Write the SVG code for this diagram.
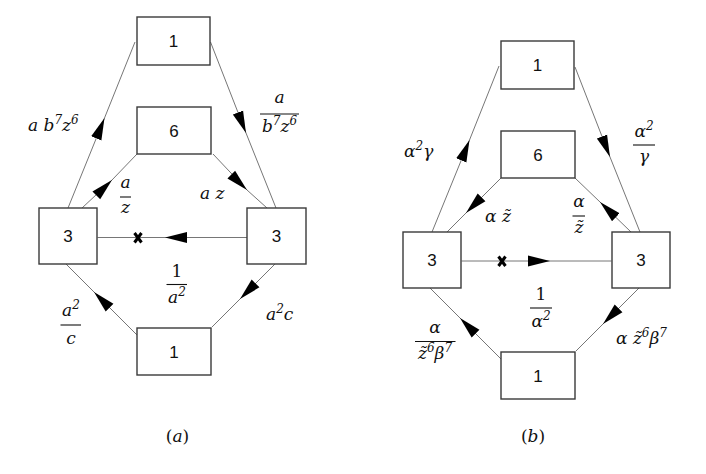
<svg xmlns="http://www.w3.org/2000/svg" width="706" height="474" viewBox="0 0 706 474">
<style>
.box{fill:#fff;stroke:#3a3a3a;stroke-width:1.4}
.num{font-family:"Liberation Sans","Open Sans",sans-serif;font-size:17px;fill:#111;text-anchor:middle}
.m{font-family:"DejaVu Serif","Liberation Serif",serif;font-style:italic;font-size:17px;fill:#111}
.up{font-style:normal}
.c{text-anchor:middle}
.sup{font-size:12px}
.edge{fill:none;stroke:#666;stroke-width:0.9;marker-mid:url(#ah)}
.frac{stroke:#111;stroke-width:1.1}
.x{stroke:#000;stroke-width:3;stroke-linecap:butt}
</style>
<defs>
<marker id="ah" markerUnits="userSpaceOnUse" markerWidth="22" markerHeight="12" viewBox="0 0 20 10" refX="20" refY="5" orient="auto">
<path d="M0,0 L20,5 L0,10 Z" fill="#000"/>
</marker>
</defs>
<rect width="706" height="474" fill="#fff"/>
<g id="connectors">
<path class="edge" d="M68,208 L104.5,118 L135,42"/>
<path class="edge" d="M82,208 L112,180 L137,154"/>
<path class="edge" d="M210.5,42 L246,133 L276,208"/>
<path class="edge" d="M213,154 L247,190 L267,208"/>
<path class="edge" d="M247.5,237.5 L165,237.5 L97.5,237.5"/>
<path class="edge" d="M137,335 L94,292 L66,264"/>
<path class="edge" d="M275,264 L240,299 L212,327"/>
<path class="x" d="M134.5,233 L141.5,242.5 M141.5,233 L134.5,242.5"/>
<path class="edge" d="M432,232 L469.5,140 L499,66"/>
<path class="edge" d="M501,178 L466,213 L447,232"/>
<path class="edge" d="M575,67 L610,157 L640,232"/>
<path class="edge" d="M631,232 L600,202 L575,178"/>
<path class="edge" d="M461.5,261 L550,261 L611.5,261"/>
<path class="edge" d="M501,359 L460,318 L430,288"/>
<path class="edge" d="M639,288 L603,324 L576,351"/>
<path class="x" d="M498.5,256.5 L505.5,266 M505.5,256.5 L498.5,266"/>
</g>
<g id="a_top"><rect class="box" x="137" y="17" width="73" height="48"/><text class="num" x="173.5" y="47">1</text></g>
<g id="a_six"><rect class="box" x="137" y="107" width="74" height="47"/><text class="num" x="174" y="136.5">6</text></g>
<g id="a_left"><rect class="box" x="39" y="208" width="58" height="56"/><text class="num" x="68" y="242">3</text></g>
<g id="a_right"><rect class="box" x="247" y="208" width="59" height="56"/><text class="num" x="276.5" y="242">3</text></g>
<g id="a_bottom"><rect class="box" x="137" y="328" width="74" height="47"/><text class="num" x="174" y="357.5">1</text></g>
<g id="b_top"><rect class="box" x="501" y="41" width="73" height="48"/><text class="num" x="537.5" y="71">1</text></g>
<g id="b_six"><rect class="box" x="501" y="131" width="74" height="47"/><text class="num" x="538" y="160.5">6</text></g>
<g id="b_left"><rect class="box" x="403" y="232" width="58" height="56"/><text class="num" x="432" y="266">3</text></g>
<g id="b_right"><rect class="box" x="612" y="232" width="58" height="56"/><text class="num" x="641" y="266">3</text></g>
<g id="b_bottom"><rect class="box" x="501" y="352" width="74" height="47"/><text class="num" x="538" y="381.5">1</text></g>
<g id="labels_a">
<text class="m" x="28" y="131">a b<tspan class="sup" dy="-7">7</tspan><tspan dy="7">z</tspan><tspan class="sup" dy="-7">6</tspan></text>
<text class="m c" x="279.5" y="103">a</text>
<line class="frac" x1="260" y1="114" x2="299" y2="114"/>
<text class="m c" x="279.5" y="132">b<tspan class="sup" dy="-7">7</tspan><tspan dy="7">z</tspan><tspan class="sup" dy="-7">6</tspan></text>
<text class="m c" x="125.5" y="188">a</text>
<line class="frac" x1="120" y1="197" x2="131" y2="197"/>
<text class="m c" x="125.5" y="213">z</text>
<text class="m" x="200" y="199">a z</text>
<text class="m c up" x="177" y="277">1</text>
<line class="frac" x1="166.5" y1="284.5" x2="187" y2="284.5"/>
<text class="m c" x="177" y="302.5">a<tspan class="sup" dy="-7">2</tspan></text>
<text class="m c" x="71" y="316">a<tspan class="sup" dy="-7">2</tspan></text>
<line class="frac" x1="60.5" y1="325" x2="81" y2="325"/>
<text class="m c" x="71" y="343.5">c</text>
<text class="m" x="266" y="319.5">a<tspan class="sup" dy="-7">2</tspan><tspan dy="7">c</tspan></text>
<text class="m c" x="177.5" y="442"><tspan class="up">(</tspan>a<tspan class="up">)</tspan></text>
</g>
<g id="labels_b">
<text class="m" x="404" y="157">α<tspan class="sup" dy="-7">2</tspan><tspan dy="7">γ</tspan></text>
<text class="m c" x="644" y="137">α<tspan class="sup" dy="-7">2</tspan></text>
<line class="frac" x1="633" y1="145" x2="655" y2="145"/>
<text class="m c" x="644" y="162">γ</text>
<text class="m" x="485" y="222">α z̃</text>
<text class="m c" x="579" y="207">α</text>
<line class="frac" x1="572.5" y1="216" x2="585" y2="216"/>
<text class="m c" x="579" y="233">z̃</text>
<text class="m c up" x="541" y="300">1</text>
<line class="frac" x1="530" y1="308" x2="552" y2="308"/>
<text class="m c" x="541" y="326.5">α<tspan class="sup" dy="-7">2</tspan></text>
<text class="m c" x="435" y="332.5">α</text>
<line class="frac" x1="415" y1="341.5" x2="455.5" y2="341.5"/>
<text class="m c" x="435" y="358.5">z̃<tspan class="sup" dy="-7">6</tspan><tspan dy="7">β</tspan><tspan class="sup" dy="-7">7</tspan></text>
<text class="m" x="616" y="343.5">α z̃<tspan class="sup" dy="-7">6</tspan><tspan dy="7">β</tspan><tspan class="sup" dy="-7">7</tspan></text>
<text class="m c" x="533" y="442"><tspan class="up">(</tspan>b<tspan class="up">)</tspan></text>
</g>
</svg>
